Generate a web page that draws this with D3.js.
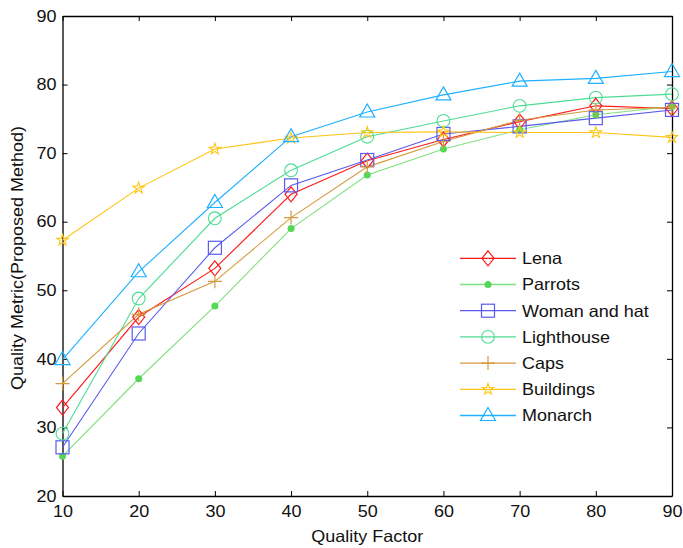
<!DOCTYPE html>
<html>
<head>
<meta charset="utf-8">
<script src="https://cdn.jsdelivr.net/npm/d3@7"></script>
<style>
body { margin: 0; background: #fff; }
text { font-family: "Liberation Sans", Arial, sans-serif; fill: #111; }
</style>
</head>
<body>
<div id="plothere"></div>
<script>
var qualityFactor = [10, 20, 30, 40, 50, 60, 70, 80, 90];
var lena      = [32.9, 46.1, 53.2, 64.0, 68.9, 72.0, 74.6, 76.9, 76.5];
var parrots   = [25.8, 37.1, 47.7, 59.0, 66.8, 70.6, 73.4, 75.6, 76.8];
var womanHat  = [27.1, 43.7, 56.2, 65.3, 69.0, 72.8, 73.9, 75.1, 76.3];
var lighthouse= [29.1, 48.8, 60.5, 67.5, 72.4, 74.7, 76.9, 78.1, 78.6];
var caps      = [36.4, 46.5, 51.3, 60.6, 68.0, 71.7, 74.8, 76.3, 76.7];
var buildings = [57.3, 64.9, 70.6, 72.2, 73.0, 73.1, 73.0, 73.0, 72.3];
var monarch   = [39.9, 52.7, 62.8, 72.4, 76.0, 78.5, 80.5, 80.9, 81.9];
var seriesNames = ["Lena", "Parrots", "Woman and hat", "Lighthouse", "Caps", "Buildings", "Monarch"];
var xTicks = [10, 20, 30, 40, 50, 60, 70, 80, 90];
var yTicks = [20, 30, 40, 50, 60, 70, 80, 90];

var series = [
  {name: seriesNames[0], vals: lena,       color: "#ff1a1a", mark: "diamond"},
  {name: seriesNames[1], vals: parrots,    color: "#7fe07f", fill: "#55d855", mark: "dot"},
  {name: seriesNames[2], vals: womanHat,   color: "#5a5aee", mark: "square"},
  {name: seriesNames[3], vals: lighthouse, color: "#4cdc94", mark: "circle"},
  {name: seriesNames[4], vals: caps,       color: "#d49a3c", mark: "plus"},
  {name: seriesNames[5], vals: buildings,  color: "#ffc414", mark: "star"},
  {name: seriesNames[6], vals: monarch,    color: "#1fb0ff", mark: "triangle"}
];

var margin = {top: 16, right: 11, bottom: 52, left: 62.5},
    width = 683 - margin.left - margin.right,
    height = 548 - margin.top - margin.bottom;

var svg = d3.select("#plothere")
  .append("svg")
  .attr("width", 683)
  .attr("height", 548)
  .append("g")
  .attr("transform", "translate(" + margin.left + "," + margin.top + ")");

var x = d3.scaleLinear().domain([10, 90]).range([0, width]);
var y = d3.scaleLinear().domain([20, 90]).range([height, 0]);

// axes (ticks pointing inward, mirrored on top/right)
function styleAxis(g) {
  g.select(".domain").attr("stroke", "#000").attr("stroke-width", 1.3);
  g.selectAll(".tick line").attr("stroke", "#000");
  g.selectAll(".tick text").style("font-size", "16.5px").attr("fill", "#111");
}
svg.append("g")
  .attr("transform", "translate(0," + height + ")")
  .call(d3.axisBottom(x).tickValues(xTicks).tickSizeInner(-5).tickSizeOuter(0).tickPadding(9))
  .call(styleAxis);
svg.append("g")
  .call(d3.axisTop(x).tickValues(xTicks).tickSizeInner(-5).tickSizeOuter(0).tickFormat(""))
  .call(styleAxis);
svg.append("g")
  .call(d3.axisLeft(y).tickValues(yTicks).tickSizeInner(-5).tickSizeOuter(0).tickPadding(6))
  .call(styleAxis);
svg.append("g")
  .attr("transform", "translate(" + width + ",0)")
  .call(d3.axisRight(y).tickValues(yTicks).tickSizeInner(-5).tickSizeOuter(0).tickFormat(""))
  .call(styleAxis);

svg.append("text")
  .attr("x", width / 2)
  .attr("y", height + 46)
  .attr("text-anchor", "middle")
  .style("font-size", "16.5px")
  .text("Quality Factor");
svg.append("text")
  .attr("transform", "translate(" + (-39.5) + "," + (height / 2 + 2) + ") rotate(-90)")
  .attr("text-anchor", "middle")
  .style("font-size", "16.5px")
  .text("Quality Metric(Proposed Method)");

function drawMark(g, s, cx, cy) {
  var c = s.color;
  if (s.mark == "diamond") {
    g.append("path").attr("d", "M" + cx + "," + (cy - 7.5) + "L" + (cx + 6) + "," + cy + "L" + cx + "," + (cy + 7.5) + "L" + (cx - 6) + "," + cy + "Z")
      .attr("fill", "none").attr("stroke", c).attr("stroke-width", 1.2);
  } else if (s.mark == "dot") {
    g.append("circle").attr("cx", cx).attr("cy", cy).attr("r", 3.5).attr("fill", s.fill);
  } else if (s.mark == "square") {
    g.append("rect").attr("x", cx - 6.5).attr("y", cy - 6.5).attr("width", 13).attr("height", 13)
      .attr("fill", "none").attr("stroke", c).attr("stroke-width", 1.2);
  } else if (s.mark == "circle") {
    g.append("circle").attr("cx", cx).attr("cy", cy).attr("r", 6.4)
      .attr("fill", "none").attr("stroke", c).attr("stroke-width", 1.1);
  } else if (s.mark == "plus") {
    g.append("path").attr("d", "M" + (cx - 7) + "," + cy + "H" + (cx + 7) + "M" + cx + "," + (cy - 7) + "V" + (cy + 7))
      .attr("fill", "none").attr("stroke", c).attr("stroke-width", 1.2);
  } else if (s.mark == "star") {
    g.append("path").attr("d", d3.symbol().type(d3.symbolStar).size(40)())
      .attr("transform", "translate(" + cx + "," + cy + ")")
      .attr("fill", "none").attr("stroke", c).attr("stroke-width", 1.1);
  } else if (s.mark == "triangle") {
    g.append("path").attr("d", "M" + cx + "," + (cy - 8) + "L" + (cx + 7.5) + "," + (cy + 5) + "L" + (cx - 7.5) + "," + (cy + 5) + "Z")
      .attr("fill", "none").attr("stroke", c).attr("stroke-width", 1.2);
  }
}

var line = d3.line()
  .x(function(d, i) { return x(qualityFactor[i]); })
  .y(function(d) { return y(d); });

series.forEach(function(s) {
  svg.append("path")
    .attr("d", line(s.vals))
    .attr("fill", "none")
    .attr("stroke", s.color)
    .attr("stroke-width", 1.1);
});
series.forEach(function(s) {
  var g = svg.append("g");
  s.vals.forEach(function(v, i) { drawMark(g, s, x(qualityFactor[i]), y(v)); });
});

// legend
var legend = svg.append("g").attr("transform", "translate(" + (460 - margin.left) + "," + (258.3 - margin.top) + ")");
series.forEach(function(s, i) {
  var ly = i * 26.2;
  legend.append("line").attr("x1", 0).attr("x2", 56).attr("y1", ly).attr("y2", ly)
    .attr("stroke", s.color).attr("stroke-width", 1.3);
  drawMark(legend, s, 28, ly);
  legend.append("text").attr("x", 62).attr("y", ly).attr("dy", "0.36em")
    .style("font-size", "16.5px").text(s.name);
});

// the original font is a bit wider than Liberation Sans, stretch all text
svg.selectAll("text").each(function() {
  var w = this.getComputedTextLength();
  if (w > 0) d3.select(this).attr("textLength", w * 1.09).attr("lengthAdjust", "spacingAndGlyphs");
});
</script>
</body>
</html>
